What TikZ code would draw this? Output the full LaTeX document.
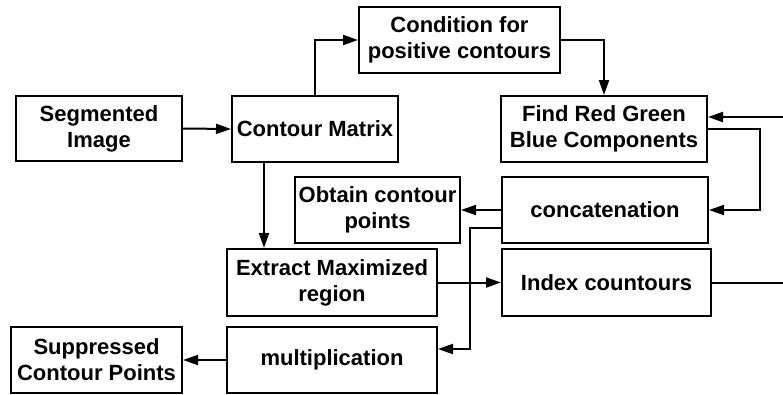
\documentclass[tikz,border=0pt]{standalone}
\usepackage{fontspec}
\setmainfont{Liberation Sans}
\usepackage{tikz}
\usetikzlibrary{calc,arrows.meta}

\tikzset{
	blk/.style={draw,rectangle,line width=2pt,align=center,inner sep=2pt,font=\fontsize{22pt}{26pt}\selectfont\bfseries},
	arr/.style={-{Triangle[length=15pt,width=10pt]},line width=2pt},
	ln/.style={line width=2pt}
}

\begin{document}
\begin{tikzpicture}[x=1pt,y=-1pt]
	\useasboundingbox (0,0) rectangle (783,394);
	
	%boxes
	\node[blk,minimum width=166pt,minimum height=65pt] (segimg) at (99,128.5) {Segmented\\Image};
	\node[blk,minimum width=166pt,minimum height=66pt] (cmatrix) at (315,129) {Contour Matrix};
	\node[blk,minimum width=201pt,minimum height=66pt] (cond) at (459.5,40) {Condition for\\positive contours};
	\node[blk,minimum width=206pt,minimum height=66pt] (rgb) at (604,129) {Find Red Green\\Blue Components};
	\node[blk,minimum width=206pt,minimum height=66pt] (concat) at (605,210) {concatenation};
	\node[blk,minimum width=165pt,minimum height=66pt] (obtain) at (377.5,210) {Obtain contour\\points};
	\node[blk,minimum width=210pt,minimum height=67pt] (extract) at (332,282.5) {Extract Maximized\\region};
	\node[blk,minimum width=209pt,minimum height=67pt] (index) at (606.5,282.5) {Index countours};
	\node[blk,minimum width=210pt,minimum height=66pt] (mult) at (332,360) {multiplication};
	\node[blk,minimum width=171pt,minimum height=66pt] (suppr) at (96.5,360) {Suppressed\\Contour Points};
	
	%free ends at the right border
	\coordinate (inr) at (783,117);
	\coordinate (outr) at (783,282.5);
	
	%arrows
	\draw[arr] (segimg.east)--(cmatrix.west);						%seg--matrix
	\draw[arr] (cmatrix.north) |- (cond.west);						%matrix--cond
	\draw[arr] (cond.east) -| (rgb.north);							%cond--rgb
	\draw[arr] ([xshift=-51pt]cmatrix.south)--([xshift=-51pt]cmatrix.south |- extract.north);	%matrix--extract
	\draw[arr] (inr)--(inr -| rgb.east);							%loop back
	\draw[arr] (rgb.east)--++(52,0) |- (concat.east);				%rgb--concat
	\draw[arr] (concat.west)--(obtain.east);						%concat--obtain
	\draw[arr] ([yshift=-18pt]concat.west)--++(-31,0) |- ([yshift=11pt]mult.east);	%concat--mult
	\draw[arr] (extract.east)--(index.west);						%extract--index
	\draw[ln] (index.east)--(outr);									%index--out
	\draw[arr] (mult.west)--(suppr.east);							%mult--suppr
	
	%\draw[help lines,step=50] (0,0) grid (783,394);
\end{tikzpicture}
\end{document}
